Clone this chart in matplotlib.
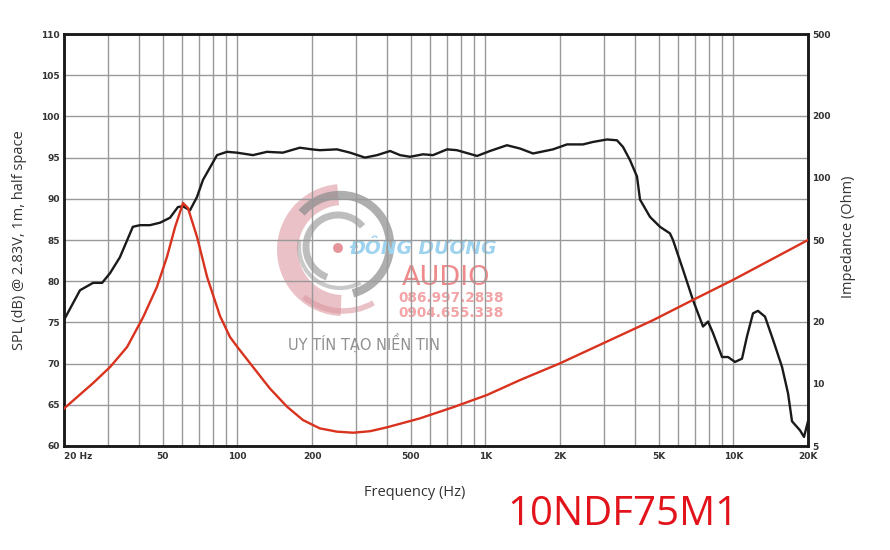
import matplotlib
matplotlib.use("Agg")
import matplotlib.pyplot as plt
from matplotlib.patches import Arc, Wedge, Circle
from matplotlib.transforms import IdentityTransform

# ---------------- data ----------------
spl_freq = [20, 23.2, 26.2, 28.5, 30.7, 33.6, 37.9, 40.5, 44.4, 48.8, 53.5, 57.6, 60.3,
            64.4, 68.7, 72.7, 82.8, 90.8, 99.6, 115.6, 131.6, 152.6, 178.6, 200, 215,
            252, 285, 327, 366, 413, 453, 497, 561, 615, 701, 768, 926, 1044, 1222,
            1380, 1557, 1874, 2134, 2476, 2717, 3094, 3394, 3589, 3830, 4088, 4204,
            4614, 5062, 5552, 5710, 6266, 6877, 7546, 7906, 8281, 9003, 9518, 10154,
            10838, 11350, 12002, 12571, 13416, 14452, 15714, 16614, 17242, 18567,
            19270, 20000]
spl_db = [75.3, 78.9, 79.8, 79.8, 81.0, 82.9, 86.6, 86.8, 86.8, 87.1, 87.7, 89.0, 89.1,
          88.6, 90.2, 92.3, 95.3, 95.7, 95.6, 95.3, 95.7, 95.6, 96.2, 96.0, 95.9,
          96.0, 95.6, 95.0, 95.3, 95.8, 95.3, 95.1, 95.4, 95.3, 96.0, 95.9, 95.2, 95.8, 96.5,
          96.1, 95.5, 96.0, 96.6, 96.6, 96.9, 97.2, 97.1, 96.3, 94.7, 92.7, 89.9,
          87.8, 86.6, 85.8, 85.0, 81.4, 77.7, 74.5, 75.1, 73.7, 70.8, 70.8, 70.2,
          70.6, 73.3, 76.1, 76.4, 75.7, 72.9, 69.6, 66.4, 63.0, 61.9,
          61.1, 63.0]

imp_freq = [20, 26.2, 30.7, 35.9, 41.7, 47.4, 52.0, 56.1, 60.4, 63.2, 68.8, 75.5, 85.1,
            93.4, 99.7, 115.6, 135.4, 158.6, 184, 215, 252, 293, 343, 401, 545, 741, 1015,
            1380, 2000, 4743, 6877, 9968, 20000]
imp_ohm = [7.6, 10.1, 12.1, 15.1, 21.1, 29.6, 41.3, 57.8, 75.6, 71.5, 51.7, 33.1, 21.4,
           16.9, 15.2, 12.1, 9.5, 7.76, 6.68, 6.09, 5.87, 5.8, 5.9, 6.16, 6.81, 7.71, 8.84,
           10.45, 12.6, 20.4, 25.6, 32.0, 50.0]

x_ticks = [20, 50, 100, 200, 500, 1000, 2000, 5000, 10000, 20000]
x_labels = ["20 Hz", "50", "100", "200", "500", "1K", "2K", "5K", "10K", "20K"]
x_minor = [30, 40, 60, 70, 80, 90, 300, 400, 600, 700, 800, 900,
           3000, 4000, 6000, 7000, 8000, 9000]
spl_ticks = [60, 65, 70, 75, 80, 85, 90, 95, 100, 105, 110]
imp_ticks = [5, 10, 20, 50, 100, 200, 500]
imp_labels = ["5", "10", "20", "50", "100", "200", "500"]

# ---------------- figure ----------------
W, H = 890, 550
fig = plt.figure(figsize=(W / 100, H / 100), dpi=100)
fig.patch.set_facecolor("white")

L, R, T, B = 64, 808, 34, 446
ax = fig.add_axes([L / W, 1 - B / H, (R - L) / W, (B - T) / H])
ax.set_facecolor("none")
ax.set_zorder(2)

# watermark (drawn at figure level, behind the grid)
px = IdentityTransform()
def P(x, y):
    return (x, H - y)

pink = "#dc98a0"
fig.patches.append(Wedge(P(343, 250), 66, 95, 268, width=21, transform=px,
                         facecolor=pink, edgecolor="none", alpha=0.6, zorder=0))
fig.patches.append(Arc(P(343, 250), 122, 122, theta1=230, theta2=300, transform=px,
                       edgecolor=pink, lw=4, alpha=0.6, zorder=0))
fig.patches.append(Arc(P(340, 245), 100, 100, theta1=-75, theta2=140, transform=px,
                       edgecolor="#8c8c8c", lw=6, alpha=0.7, zorder=0))
fig.patches.append(Arc(P(338, 247), 64, 64, theta1=40, theta2=250, transform=px,
                       edgecolor="#9a9a9a", lw=5, alpha=0.65, zorder=0))
fig.patches.append(Arc(P(340, 247), 82, 82, theta1=170, theta2=300, transform=px,
                       edgecolor="#a0a0a0", lw=3, alpha=0.55, zorder=0))
fig.patches.append(Circle(P(338, 248), 5, transform=px, facecolor="#e48a92",
                          edgecolor="none", alpha=0.9, zorder=0))

def ftext(x, y, s, **kw):
    fig.text(x / W, 1 - y / H, s, zorder=0, **kw)

ftext(349, 248, "ĐÔNG DƯƠNG", fontsize=13.5, fontstyle="italic", fontweight="bold",
      color="#9dd3ee", va="center", ha="left", family="DejaVu Sans")
ftext(402, 278, "AUDIO", fontsize=19.5, color="#ee8a8c", va="center", ha="left",
      family="DejaVu Sans")
ftext(398, 298, "086.997.2838", fontsize=9.8, fontweight="bold", color="#f2a4a6",
      va="center", ha="left", family="DejaVu Sans")
ftext(398, 313, "0904.655.338", fontsize=9.8, fontweight="bold", color="#f2a4a6",
      va="center", ha="left", family="DejaVu Sans")
ftext(288, 343, "UY TÍN TẠO NIỀN TIN", fontsize=10.5, color="#909090",
      va="center", ha="left", family="DejaVu Sans")

# ---------------- SPL axis ----------------
ax.set_xscale("log")
ax.set_xlim(20, 20000)
ax.set_ylim(60, 110)
ax.set_xticks(x_ticks)
ax.set_xticklabels(x_labels)
ax.set_xticks(x_minor, minor=True)
ax.set_yticks(spl_ticks)
ax.set_yticklabels([str(v) for v in spl_ticks])
ax.tick_params(axis="both", which="both", length=0)
ax.tick_params(axis="x", pad=4, labelsize=6.5, labelcolor="#333333")
ax.tick_params(axis="y", pad=3, labelsize=6.5, labelcolor="#333333")
for lab in ax.get_xticklabels() + ax.get_yticklabels():
    lab.set_fontweight("bold")
ax.get_xticklabels()[0].set_horizontalalignment("left")
ax.grid(True, which="both", color="#999999", lw=1.0)
ax.set_axisbelow(True)
for s in ax.spines.values():
    s.set_linewidth(1.8)
    s.set_color("#1a1a1a")

ax.plot(spl_freq, spl_db, color="#1a1a1a", lw=1.7, zorder=3)

# ---------------- Impedance axis ----------------
ax2 = ax.twinx()
ax2.set_zorder(3)
ax2.set_yscale("log")
ax2.set_ylim(5, 500)
ax2.set_yticks(imp_ticks)
ax2.set_yticklabels(imp_labels)
ax2.yaxis.set_minor_locator(matplotlib.ticker.NullLocator())
ax2.tick_params(axis="y", which="both", length=0, pad=3, labelsize=6.5,
                labelcolor="#333333")
for lab in ax2.get_yticklabels():
    lab.set_fontweight("bold")
for s in ax2.spines.values():
    s.set_linewidth(1.8)
    s.set_color("#1a1a1a")
ax2.plot(imp_freq, imp_ohm, color="#d9321e", lw=1.7, zorder=3)

# ---------------- labels ----------------
fig.text(20 / W, 1 - 240 / H, "SPL (dB) @ 2.83V, 1m, half space", rotation=90,
         fontsize=10.5, color="#333333", ha="center", va="center", family="Open Sans")
fig.text(848 / W, 1 - 237 / H, "Impedance (Ohm)", rotation=90,
         fontsize=10.5, color="#333333", ha="center", va="center", family="Open Sans")
fig.text(415 / W, 1 - 492 / H, "Frequency (Hz)", fontsize=10.5, color="#333333",
         ha="center", va="center", family="Open Sans")
fig.text(623 / W, 1 - 515 / H, "10NDF75M1", fontsize=29, color="#e3131b",
         ha="center", va="center", family="Open Sans")

fig.savefig("out.png", dpi=100, facecolor="white")
